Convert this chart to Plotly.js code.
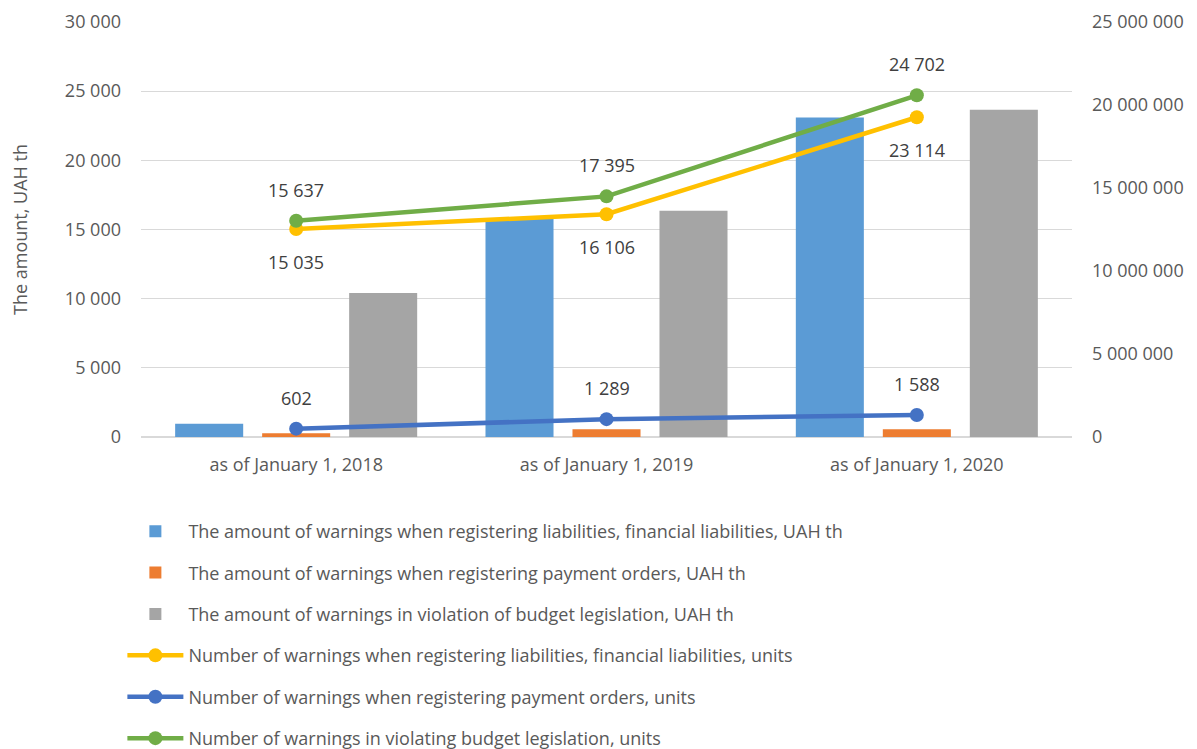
<!DOCTYPE html>
<html>
<head>
<meta charset="utf-8">
<script src="https://cdn.plot.ly/plotly-3.0.1.min.js"></script>
<style>html,body{margin:0;padding:0;background:#fff;}#chart{width:1197px;height:749px;}</style>
</head>
<body>
<div id="chart"></div>
<script>
const categories = ["as of January 1, 2018", "as of January 1, 2019", "as of January 1, 2020"];

// Bars (amounts, UAH th) - right axis scale
const amountLiabilities = [800000, 13130000, 19250000];
const amountPaymentOrders = [220000, 460000, 460000];
const amountBudgetViolation = [8670000, 13630000, 19720000];

// Lines (number of warnings, units) - left axis scale
const numLiabilities = [15035, 16106, 23114];
const numPaymentOrders = [602, 1289, 1588];
const numBudgetViolation = [15637, 17395, 24702];

const seriesNames = [
  "The amount of warnings when registering liabilities, financial liabilities, UAH th",
  "The amount of warnings when registering payment orders, UAH th",
  "The amount of warnings in violation of budget legislation, UAH th",
  "Number of warnings when registering liabilities, financial liabilities, units",
  "Number of warnings when registering payment orders, units",
  "Number of warnings in violating budget legislation, units"
];

const leftTicks = [0, 5000, 10000, 15000, 20000, 25000, 30000];
const rightTicks = [0, 5000000, 10000000, 15000000, 20000000, 25000000];

const FONT = "Open Sans, Noto Sans, sans-serif";
const TICKCOL = "#595959";
const LABELCOL = "#404040";
const FS = 18;

function bar(name, y, color, g) {
  return {type: "bar", name: name, x: categories, y: y, yaxis: "y",
    marker: {color: color}, legendgroup: g, hoverinfo: "y"};
}
function line(name, y, color, g) {
  return {type: "scatter", mode: "lines+markers", name: name, x: categories, y: y, yaxis: "y2",
    line: {color: color, width: 4.5}, marker: {color: color, size: 14},
    legendgroup: g, hoverinfo: "y"};
}

const traces = [
  bar(seriesNames[0], amountLiabilities, "#5B9BD5", "g1"),
  bar(seriesNames[1], amountPaymentOrders, "#ED7D31", "g2"),
  bar(seriesNames[2], amountBudgetViolation, "#A5A5A5", "g3"),
  line(seriesNames[3], numLiabilities, "#FFC000", "g4"),
  line(seriesNames[4], numPaymentOrders, "#4472C4", "g5"),
  line(seriesNames[5], numBudgetViolation, "#70AD47", "g6")
];

function fmt(v) { return String(v).replace(/\B(?=(\d{3})+(?!\d))/g, " "); }

const annotations = [];
const labelSets = [
  {vals: numBudgetViolation, shift: 31},
  {vals: numLiabilities, shift: -33},
  {vals: numPaymentOrders, shift: 31}
];
labelSets.forEach(s => {
  s.vals.forEach((v, i) => {
    annotations.push({x: categories[i], y: v, xref: "x", yref: "y2", text: fmt(v),
      showarrow: false, yshift: s.shift, font: {family: FONT, size: FS, color: LABELCOL}});
  });
});

const layout = {
  width: 1197, height: 749,
  margin: {l: 141, r: 125, t: 22, b: 312, autoexpand: false},
  paper_bgcolor: "#fff", plot_bgcolor: "#fff",
  separators: ". ",
  font: {family: FONT, size: FS, color: TICKCOL},
  barmode: "group", bargap: 0.159, bargroupgap: 0.218,
  showlegend: true,
  xaxis: {type: "category", showgrid: false, showline: false, zeroline: false, ticks: "",
    tickfont: {family: FONT, size: FS, color: TICKCOL}, ticklabelstandoff: 15, fixedrange: true},
  yaxis: {side: "right", range: [0, 25000000], tickvals: rightTicks, tickformat: ",",
    showgrid: false, zeroline: false, showline: false, ticks: "",
    tickfont: {family: FONT, size: FS, color: TICKCOL}, ticklabelstandoff: 19},
  yaxis2: {side: "left", overlaying: "y", range: [0, 30000], tickvals: leftTicks, tickformat: ",",
    showgrid: true, gridcolor: "#D9D9D9", gridwidth: 1.3, zeroline: true, zerolinecolor: "#D9D9D9", zerolinewidth: 1.3,
    showline: false, ticks: "",
    tickfont: {family: FONT, size: FS, color: TICKCOL}, ticklabelstandoff: 19,
    title: {text: "The amount, UAH th", font: {family: FONT, size: FS, color: TICKCOL}, standoff: 32}},
  legend: {orientation: "v", x: -0.02, xanchor: "left", y: -0.183, yanchor: "top",
    traceorder: "grouped", tracegroupgap: 15, itemwidth: 56,
    font: {family: FONT, size: FS, color: TICKCOL}, bgcolor: "rgba(0,0,0,0)"},
  annotations: annotations
};

Plotly.newPlot("chart", traces, layout, {displayModeBar: false, staticPlot: true});
</script>
</body>
</html>
